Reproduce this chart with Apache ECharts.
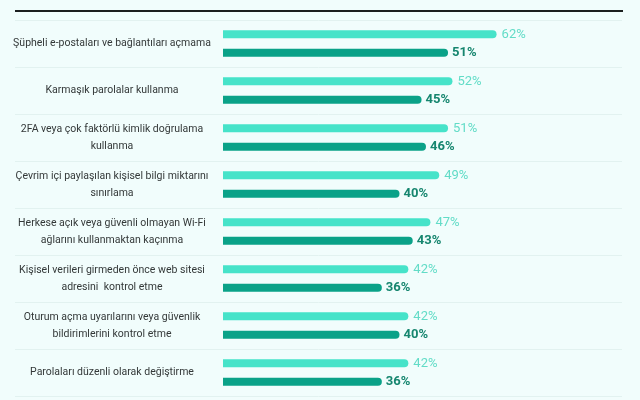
<!DOCTYPE html>
<html>
<head>
<meta charset="utf-8">
<script src="https://cdn.jsdelivr.net/npm/echarts@6/dist/echarts.min.js"></script>
<style>
  html, body { margin: 0; padding: 0; background: #f1fdfc; }
  #chart { width: 640px; height: 400px; }
</style>
</head>
<body>
<div id="chart"></div>
<script>
var categories = [
  'Şüpheli e-postaları ve bağlantıları açmama',
  'Karmaşık parolalar kullanma',
  '2FA veya çok faktörlü kimlik doğrulama\nkullanma',
  'Çevrim içi paylaşılan kişisel bilgi miktarını\nsınırlama',
  'Herkese açık veya güvenli olmayan Wi-Fi\nağlarını kullanmaktan kaçınma',
  'Kişisel verileri girmeden önce web sitesi\nadresini  kontrol etme',
  'Oturum açma uyarılarını veya güvenlik\nbildirimlerini kontrol etme',
  'Parolaları düzenli olarak değiştirme'
];
var lightValues = [62, 52, 51, 49, 47, 42, 42, 42];
var darkValues = [51, 45, 46, 40, 43, 36, 40, 36];

var chart = echarts.init(document.getElementById('chart'));
var option = {
  backgroundColor: '#f1fdfc',
  animation: false,
  textStyle: { fontFamily: 'Roboto' },
  graphic: [
    {
      // top rule
      type: 'line',
      shape: { x1: 15, y1: 11, x2: 623, y2: 11 },
      style: { stroke: '#1b1f1f', lineWidth: 2 }
    }
  ],
  grid: [
    { left: 223, right: 64, top: 20, bottom: 4 },
    { left: 15, right: 18, top: 20, bottom: 4 }
  ],
  xAxis: [
    { type: 'value', gridIndex: 0, min: 0, max: 80, show: false },
    { type: 'value', gridIndex: 1, min: 0, max: 1, show: false }
  ],
  yAxis: [
    {
      type: 'category',
      gridIndex: 0,
      inverse: true,
      data: categories,
      axisLine: { show: false },
      axisTick: { show: false },
      splitLine: { show: false },
      axisLabel: {
        margin: 111,
        align: 'center',
        color: '#333838',
        fontSize: 10.5,
        lineHeight: 17
      }
    },
    {
      // row separators
      type: 'category',
      gridIndex: 1,
      inverse: true,
      data: categories,
      axisLine: { show: false },
      axisTick: { show: false },
      axisLabel: { show: false },
      splitLine: { show: true, lineStyle: { color: '#e2f2f0', width: 1 } }
    }
  ],
  series: [
    {
      name: 'light',
      type: 'bar',
      xAxisIndex: 0,
      yAxisIndex: 0,
      data: lightValues,
      barWidth: 8,
      barGap: '130%',
      itemStyle: { color: '#46e3c9', borderRadius: [0, 4, 4, 0] },
      label: {
        show: true,
        position: 'right',
        distance: 5,
        formatter: '{c}%',
        color: '#62dcc7',
        fontSize: 13
      }
    },
    {
      name: 'dark',
      type: 'bar',
      xAxisIndex: 0,
      yAxisIndex: 0,
      data: darkValues,
      barWidth: 8,
      itemStyle: { color: '#0aa288', borderRadius: [0, 4, 4, 0] },
      label: {
        show: true,
        position: 'right',
        distance: 4,
        formatter: '{c}%',
        color: '#16866f',
        fontSize: 13,
        fontWeight: 'bold'
      }
    }
  ]
};
chart.setOption(option);
</script>
</body>
</html>
